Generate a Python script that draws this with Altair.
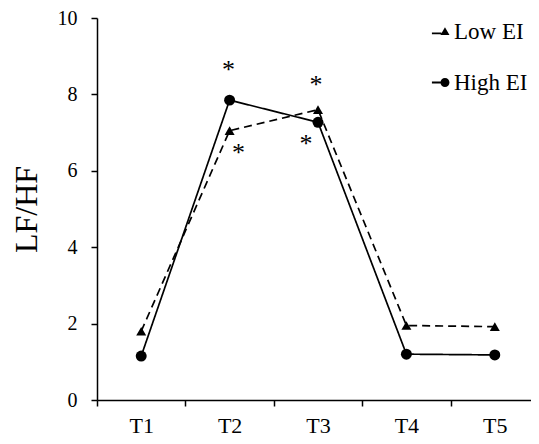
import altair as alt
import pandas as pd

times = ["T1", "T2", "T3", "T4", "T5"]
groups = ["Low EI", "High EI"]
low_ei = [1.80, 7.05, 7.60, 1.95, 1.92]
high_ei = [1.15, 7.85, 7.27, 1.20, 1.18]

star_times = ["T2", "T2", "T3", "T3"]
star_values = [8.42, 6.25, 8.04, 6.48]
star_dx = [-1, 9, -2, -12]

FONT = "Liberation Serif"

rows = []
for t, v in zip(times, low_ei):
    rows.append({"time": t, "value": v, "group": "Low EI"})
for t, v in zip(times, high_ei):
    rows.append({"time": t, "value": v, "group": "High EI"})
df = pd.DataFrame(rows)
df["legend_group"] = df["group"]

x_enc = alt.X(
    "time:N",
    sort=times,
    scale=alt.Scale(type="band", domain=times, paddingInner=0, paddingOuter=0),
    axis=alt.Axis(
        title=None,
        tickBand="extent",
        labelAngle=0,
        labelFont=FONT,
        labelFontSize=22,
        labelColor="black",
        labelPadding=9,
        tickSize=6,
        tickColor="black",
        tickWidth=1.5,
        domainColor="black",
        domainWidth=1.5,
    ),
)
y_enc = alt.Y(
    "value:Q",
    scale=alt.Scale(domain=[0, 10], nice=False),
    axis=alt.Axis(
        title="LF/HF",
        values=[0, 2, 4, 6, 8, 10],
        grid=False,
        labelFont=FONT,
        labelFontSize=20,
        labelColor="black",
        labelPadding=14,
        tickSize=6,
        tickColor="black",
        tickWidth=1.5,
        domainColor="black",
        domainWidth=1.5,
        titleFont=FONT,
        titleFontSize=32,
        titleFontWeight="normal",
        titleColor="#000000",
        titlePadding=14,
    ),
)

base = alt.Chart(df)

lines = base.mark_line(color="black", strokeWidth=1.7).encode(
    x=x_enc,
    y=y_enc,
    strokeDash=alt.StrokeDash(
        "group:N", scale=alt.Scale(domain=groups, range=[[8, 5], [1, 0]]), legend=None
    ),
    detail="group:N",
)

points = base.mark_point(filled=True, color="black", opacity=1).encode(
    x=x_enc,
    y=y_enc,
    shape=alt.Shape(
        "group:N", scale=alt.Scale(domain=groups, range=["triangle-up", "circle"]), legend=None
    ),
    size=alt.Size("group:N", scale=alt.Scale(domain=groups, range=[100, 120]), legend=None),
)

tri_path = "M-2.35,0.2H-0.25V0.6H-2.35Z M-0.45,0.75L0.55,-0.95L1.55,0.75Z"
circ_path = "M-2.35,-0.2H-0.25V0.2H-2.35Z M1.55,0A1,1 0 1,1 -0.45,0A1,1 0 1,1 1.55,0Z"

legend_layer = base.mark_point(filled=True, color="black", opacity=0).encode(
    x=x_enc,
    y=y_enc,
    shape=alt.Shape(
        "legend_group:N",
        scale=alt.Scale(domain=groups, range=[tri_path, circ_path]),
        legend=alt.Legend(
            title=None,
            orient="none",
            legendX=334,
            legendY=2,
            symbolSize=81,
            symbolOpacity=1,
            symbolFillColor="black",
            symbolStrokeColor="black",
            symbolStrokeWidth=0,
            labelFont=FONT,
            labelFontSize=23,
            labelColor="black",
            labelOffset=0,
            rowPadding=27,
            labelLimit=200,
        ),
    ),
)

star_df = pd.DataFrame({"time": star_times, "value": star_values})
stars = []
for i in range(len(star_times)):
    stars.append(
        alt.Chart(star_df.iloc[[i]])
        .mark_text(text="*", font=FONT, fontSize=26, color="black", baseline="alphabetic", dx=star_dx[i])
        .encode(x=x_enc, y=y_enc)
    )

chart = (
    alt.layer(lines, points, legend_layer, *stars)
    .resolve_scale(shape="independent")
    .properties(
        width=442,
        height=382,
        autosize=alt.AutoSizeParams(type="none"),
        padding={"left": 89, "top": 10, "right": -8, "bottom": 38},
        background="white",
    )
    .configure_view(stroke=None)
)

chart.save("out.html", embed_options={"renderer": "svg", "actions": False})
